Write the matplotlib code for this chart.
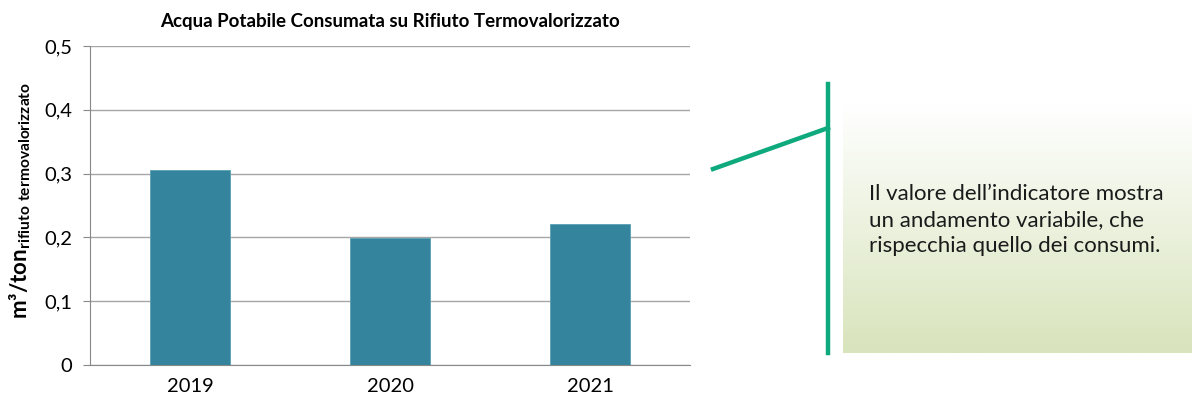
import numpy as np
import matplotlib
matplotlib.use("Agg")
from matplotlib import pyplot as plt
from matplotlib.lines import Line2D

plt.rcParams['font.family'] = ['Lato', 'DejaVu Sans']
plt.rcParams['mathtext.fontset'] = 'custom'
plt.rcParams['mathtext.rm'] = 'Lato'
plt.rcParams['mathtext.bf'] = 'Lato:bold'

# dati
anni = ['2019', '2020', '2021']
valori = [0.306, 0.199, 0.221]
y_ticks = [0, 0.1, 0.2, 0.3, 0.4, 0.5]
y_labels = ['0', '0,1', '0,2', '0,3', '0,4', '0,5']
titolo = 'Acqua Potabile Consumata su Rifiuto Termovalorizzato'
nota = "Il valore dell\u2019indicatore mostra\nun andamento variabile, che\nrispecchia quello dei consumi."

W, H = 1192, 407
fig = plt.figure(figsize=(W / 100, H / 100), dpi=100)

# grafico a barre
ax = fig.add_axes([90 / W, 1 - 365 / H, 600 / W, 319 / H])
x = np.arange(len(anni))
ax.bar(x, valori, width=0.4, color='#33849c', edgecolor='#5a9fb3', linewidth=0.6, zorder=3)
ax.set_xlim(-0.5, 2.5)
ax.set_ylim(0, 0.5)
ax.set_yticks(y_ticks)
ax.set_yticklabels(y_labels, fontsize=14.5)
ax.set_xticks(x)
ax.set_xticklabels(anni, fontsize=14.5)
ax.tick_params(axis='x', length=0, pad=9)
ax.tick_params(axis='y', length=5, color='#888888', pad=8)
ax.grid(axis='y', color='#a6a6a6', linewidth=1, zorder=0)
for s in ['top', 'right']:
    ax.spines[s].set_visible(False)
ax.spines['left'].set_color('#888888')
ax.spines['bottom'].set_color('#888888')
ax.set_title(titolo, fontsize=13.5, fontweight='bold', pad=14, x=0.5)

fig.text(20 / W, 1 - 200 / H, 'm³/ton$_{\\mathbf{rifiuto\\ termovalorizzato}}$',
         rotation=90, fontsize=16, fontweight='bold', ha='center', va='center')

# riquadro con gradiente
bx0, by0, bx1, by1 = 843, 83, 1192, 353
box = fig.add_axes([bx0 / W, 1 - by1 / H, (bx1 - bx0) / W, (by1 - by0) / H])
t = np.linspace(0, 1, 256)
t = np.clip((t - 0.08) / 0.92, 0, 1)
top = np.array([255, 255, 255]) / 255
bottom = np.array([216, 228, 188]) / 255
grad = top[None, :] * (1 - t[:, None]) + bottom[None, :] * t[:, None]
box.imshow(grad[:, None, :], aspect='auto', extent=[0, 1, 0, 1], origin='upper')
box.axis('off')

fig.text(869 / W, 1 - 220 / H, nota, fontsize=16, va='center', ha='left',
         linespacing=1.35, color='#1a1a1a')

# linee verdi
verde = '#0fa97e'
fig.add_artist(Line2D([828 / W, 828 / W], [1 - 84 / H, 1 - 353 / H], color=verde, linewidth=3.2,
                      transform=fig.transFigure))
fig.add_artist(Line2D([713 / W, 828 / W], [1 - 169 / H, 1 - 128 / H], color=verde, linewidth=3.2,
                      transform=fig.transFigure))

fig.savefig('out.png', dpi=100)
